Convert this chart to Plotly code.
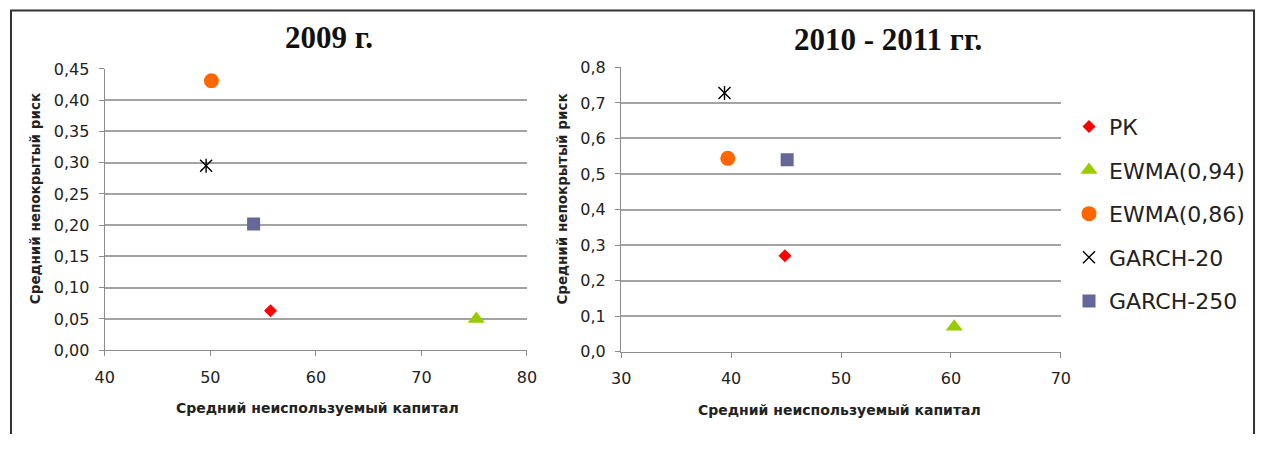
import plotly.graph_objects as go

# Series shown in both panels
series = ["РК", "EWMA(0,94)", "EWMA(0,86)", "GARCH-20", "GARCH-250"]

# 2009: average unused capital vs. average uncovered risk
capital_2009 = [55.7, 75.2, 50.1, 49.6, 54.1]
risk_2009 = [0.063, 0.05, 0.431, 0.295, 0.202]

# 2010-2011
capital_2010_11 = [44.9, 60.3, 39.7, 39.4, 45.1]
risk_2010_11 = [0.27, 0.07, 0.544, 0.728, 0.54]

panel_titles = ["2009 г.", "2010 - 2011 гг."]
x_title = "Средний неиспользуемый капитал"
y_title = "Средний непокрытый риск"

colors = ["#FF0000", "#99CC00", "#FF6600", "#000000", "#666699"]
symbols = ["diamond", "triangle-up", "circle", "x-thin-open", "square"]
sizes = [10, 15, 15, 12, 13]

# the page body keeps its 8px default margin; the figure starts after it
PAGE_W, PAGE_H, BODY = 1274, 452, 8
W, H = PAGE_W - BODY, PAGE_H - BODY


def px(x):
    """page pixel -> paper fraction (horizontal)"""
    return (x - BODY) / W


def py(y):
    """page pixel (from top) -> paper fraction (vertical)"""
    return 1 - (y - BODY) / H


fig = go.Figure()

panels = [
    (capital_2009, risk_2009, "x", "y", True),
    (capital_2010_11, risk_2010_11, "x2", "y2", False),
]
for xs, ys, xa, ya, show in panels:
    for i, name in enumerate(series):
        fig.add_trace(go.Scatter(
            x=[xs[i]], y=[ys[i]], mode="markers", name=name,
            legendgroup=name, showlegend=show, xaxis=xa, yaxis=ya,
            marker=dict(symbol=symbols[i], size=sizes[i], color=colors[i],
                        line=dict(width=1.4 if symbols[i].endswith("open") else 0,
                                  color=colors[i])),
            hoverinfo="x+y+name",
        ))
        if symbols[i] == "x-thin-open":
            # vertical stroke turns the cross into a six-armed star
            fig.add_trace(go.Scatter(
                x=[xs[i]], y=[ys[i]], mode="markers", name=name,
                legendgroup=name, showlegend=False, xaxis=xa, yaxis=ya,
                marker=dict(symbol="line-ns-open", size=10, color=colors[i],
                            line=dict(width=1.4, color=colors[i])),
                hoverinfo="skip",
            ))

tick_font = dict(family="DejaVu Sans", size=16, color="#222222")
grid_col = "#A3A3A3"
axis_col = "#8C8C8C"

common_x = dict(showgrid=False, showline=True, linecolor=axis_col, linewidth=1.4,
                ticks="outside", ticklen=5, tickcolor=axis_col, tickwidth=1.4,
                tickfont=tick_font, zeroline=False, ticklabelstandoff=7)
common_y = dict(showgrid=True, gridcolor=grid_col, gridwidth=1.5, showline=True,
                linecolor=axis_col, linewidth=1.4, ticks="outside", ticklen=5,
                tickcolor=axis_col, tickwidth=1.4, tickfont=tick_font,
                zeroline=False, ticklabelstandoff=6)

fig.update_layout(
    width=W, height=H,
    margin=dict(l=0, r=0, t=0, b=0),
    paper_bgcolor="white", plot_bgcolor="white",
    separators=", ",
    xaxis=dict(common_x, domain=[px(104.3), px(533.3)], range=[40, 80],
               dtick=10, tick0=40, anchor="y"),
    yaxis=dict(common_y, domain=[py(364.5), py(70.6)], range=[0, 0.45],
               dtick=0.05, tick0=0, tickformat=".2f", anchor="x"),
    xaxis2=dict(common_x, domain=[px(629), px(1075.7)], range=[30, 70],
                dtick=10, tick0=30, anchor="y2"),
    yaxis2=dict(common_y, domain=[py(366), py(69)], range=[0, 0.8],
                dtick=0.1, tick0=0, tickformat=".1f", anchor="x2"),
    legend=dict(x=px(1084), y=py(109), xanchor="left", yanchor="top",
                font=dict(family="DejaVu Sans", size=22, color="#222222"),
                tracegroupgap=12, bgcolor="rgba(0,0,0,0)"),
    showlegend=True,
)

title_font = dict(family="Liberation Serif", size=31, color="#111111", weight="bold")
label_font = dict(family="DejaVu Sans", size=14, color="#222222", weight="bold")

annotations = [
    dict(text=panel_titles[0], x=px(332), y=py(38), font=title_font),
    dict(text=panel_titles[1], x=px(900), y=py(40), font=title_font),
    dict(text=x_title, x=px(320), y=py(425), font=label_font),
    dict(text=x_title, x=px(851), y=py(427), font=label_font),
    dict(text=y_title, x=px(33), y=py(206), font=dict(label_font, size=13.5), textangle=-90),
    dict(text=y_title, x=px(569), y=py(207), font=dict(label_font, size=13.5), textangle=-90),
]
for a in annotations:
    fig.add_annotation(xref="paper", yref="paper", showarrow=False,
                       xanchor="center", yanchor="middle", **a)

# frame around the whole figure (runs off the bottom edge)
fig.add_shape(type="path", xref="paper", yref="paper",
              path=f"M {px(9)},0 L {px(9)},{py(9.5)} L {px(1272)},{py(9.5)} L {px(1272)},0",
              line=dict(color="#333333", width=2), layer="above")

fig.write_html("out.html")
